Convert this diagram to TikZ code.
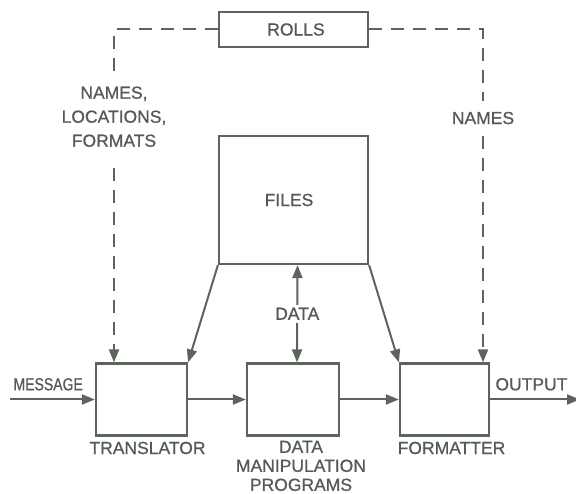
\documentclass[tikz,border=0pt]{standalone}
\usepackage{fontspec}
\setmainfont{Liberation Sans}
\newfontfamily\lettr[FakeBold=0.7]{Liberation Sans}
\usepackage{tikz}
\usetikzlibrary{positioning,arrows.meta,calc}
\definecolor{ink}{RGB}{92,100,92}
\definecolor{lettering}{RGB}{84,90,84}
\tikzset{
    blk/.style={rectangle,draw=ink,line width=2.2pt,fill=white,inner sep=0pt},
    lbl/.style={inner sep=0pt,text=lettering,font=\lettr\fontsize{17.5}{19}\selectfont,align=center},
    arr/.style={-{Triangle[length=13pt,width=10pt]},draw=ink,line width=2pt},
    dblarr/.style={{Triangle[length=13pt,width=10pt]}-{Triangle[length=13pt,width=10pt]},draw=ink,line width=2pt},
    dasharr/.style={arr,dash pattern=on 13pt off 9pt},
}

\begin{document}
\begin{tikzpicture}[x=1pt,y=-1pt]
\useasboundingbox (0,0) rectangle (576,494);
\node[blk,minimum width=149pt,minimum height=35pt] (rolls) at (293.5,29.5) {};
\node[lbl] at (296,29.5) {ROLLS};
\node[blk,minimum width=149pt,minimum height=128pt] (files) at (293.5,200) {};
\node[lbl] at (289,200) {FILES};
\node[blk,minimum width=91pt,minimum height=72pt] (trans) at (141.5,399.5) {};
\node[blk,minimum width=92pt,minimum height=72pt] (dmp) at (293,399.5) {};
\node[blk,minimum width=89pt,minimum height=72pt] (fmt) at (444.5,399.5) {};
\node[lbl,below=5pt of trans,xshift=6pt] (transl) {TRANSLATOR};
\node[lbl,below=4pt of dmp,xshift=8pt] (dmpl) {DATA\\MANIPULATION\\PROGRAMS};
\node[lbl,below=5pt of fmt,xshift=7pt] (fmtl) {FORMATTER};
\coordinate (tin) at (114,0);
\coordinate (fin) at (483,0);
\coordinate (msg) at (10,399.5);
\coordinate (out) at (580,399.5);

\draw[dasharr] (rolls.west) -| node[lbl,pos=0.631,fill=white,inner xsep=2pt,inner ysep=12pt,font=\lettr\fontsize{17.5}{24}\selectfont]{NAMES,\\LOCATIONS,\\FORMATS} (trans.north -| tin);
\draw[dasharr] (rolls.east) -| node[lbl,pos=0.633,fill=white,inner xsep=2pt,inner ysep=11pt]{NAMES} (fmt.north -| fin);
\draw[arr] (files.south west) -- (trans.north east);
\draw[arr] (files.south east) -- (fmt.north west);
\draw[dblarr] ([xshift=4pt]files.south) -- node[lbl,fill=white,inner ysep=3pt]{DATA} ([xshift=4pt]dmp.north);
\draw[arr] (msg) -- node[lbl,above=8pt,pos=0.45]{\scalebox{0.8}[1]{MESSAGE}} (trans.west);
\draw[arr] (trans) -- (dmp);
\draw[arr] (dmp) -- (fmt);
\draw[arr] (fmt) -- node[lbl,above=8pt,pos=0.46]{OUTPUT} (out);
\end{tikzpicture}
\end{document}
